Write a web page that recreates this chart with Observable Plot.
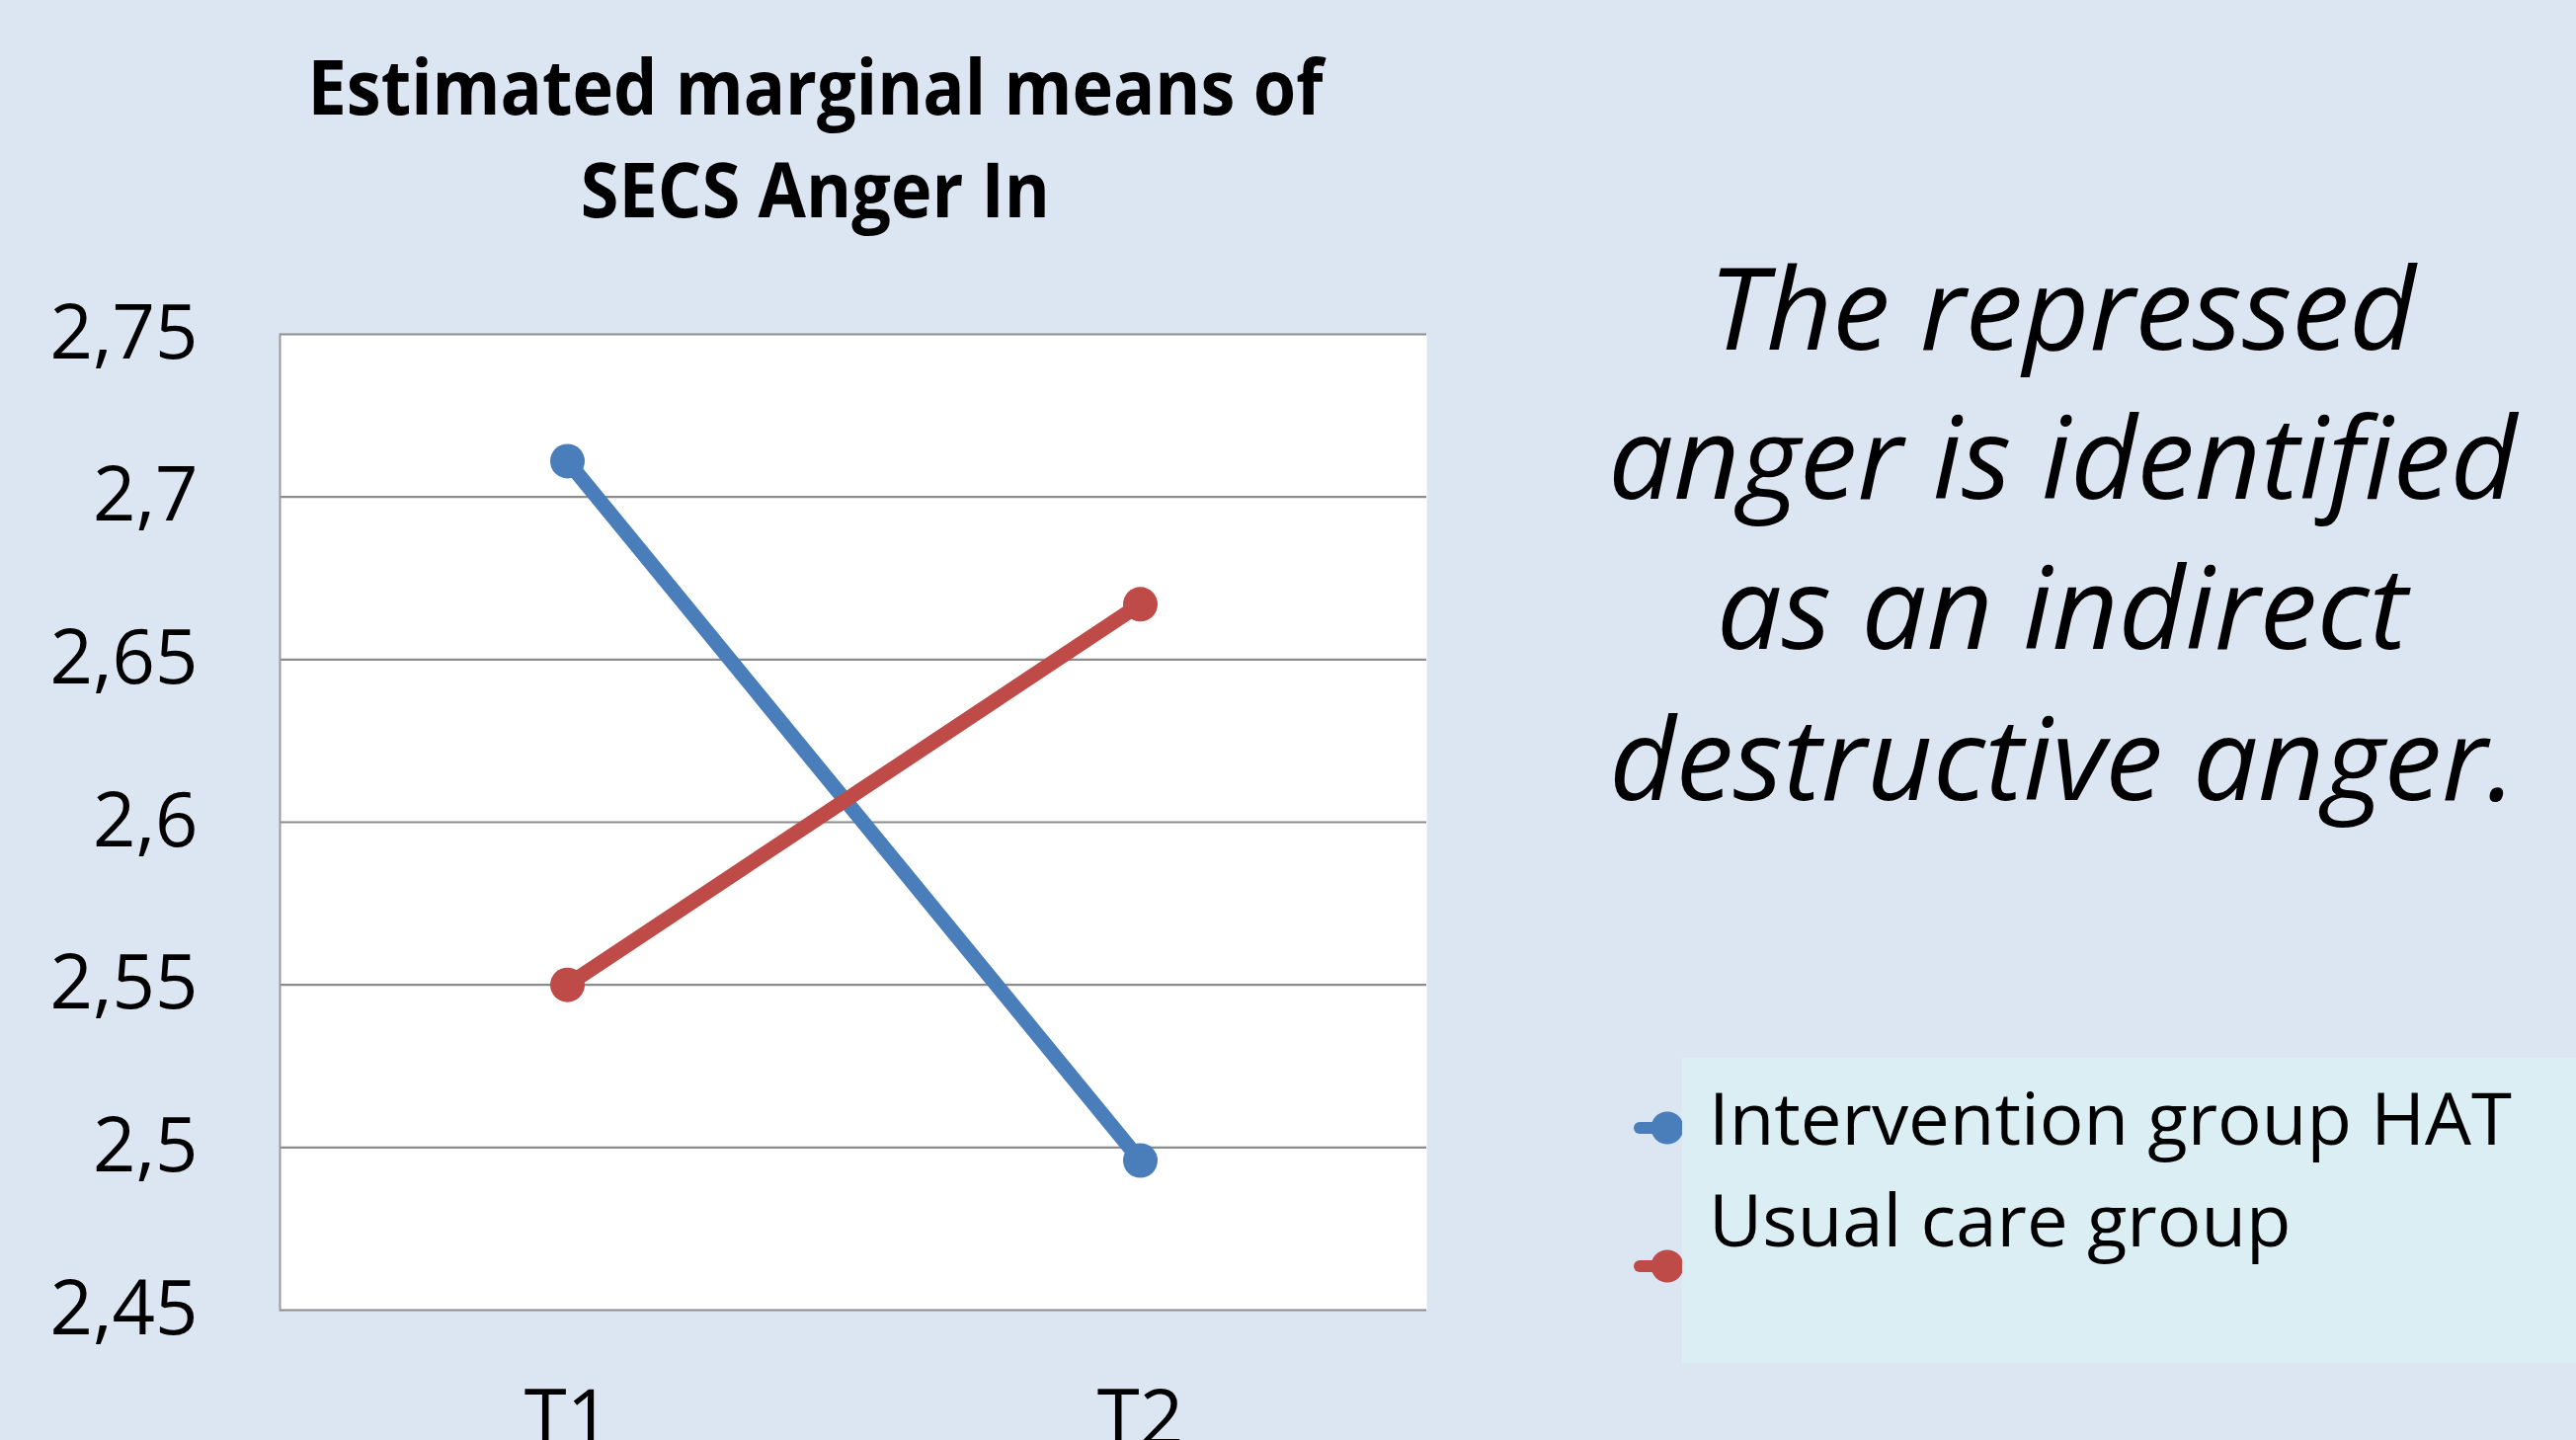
<!DOCTYPE html>
<html>
<head>
<meta charset="utf-8">
<script src="https://cdn.jsdelivr.net/npm/d3@7"></script>
<script src="https://cdn.jsdelivr.net/npm/@observablehq/plot@0.6"></script>
<style>
  html, body { margin: 0; padding: 0; }
  body {
    width: 2608px; height: 1458px; overflow: hidden; position: relative;
    background: #DCE6F2; color: #000; font-family: "Open Sans", sans-serif;
  }
  .abs { position: absolute; }
  .line { position: absolute; left: 0; width: 100%; white-space: nowrap; line-height: 1; }
  .line span { display: inline-block; }
  #title { left: 0; top: 0; width: 1650px; text-align: center; font-weight: bold; font-size: 77px; }
  #title .line span { transform-origin: 50% 50%; }
  #note { left: 1088px; top: 0; width: 2000px; text-align: center; font-style: italic; font-size: 115px; }
  #note .line span { transform-origin: 50% 50%; }
  #chart { left: 0; top: 260px; }
  #legendMarks { left: 0; top: 0; }
  #legendBox { left: 1703px; top: 1071px; width: 905px; height: 309px; background: #DBEEF4; }
  #legendText { left: 1730px; top: 0; width: 900px; font-size: 74px; }
  #legendText .line span { transform-origin: 0 50%; }
</style>
</head>
<body>
<div id="title" class="abs"></div>
<div id="chart" class="abs"></div>
<div id="note" class="abs"></div>
<svg id="legendMarks" class="abs" width="2608" height="1458"></svg>
<div id="legendBox" class="abs"></div>
<div id="legendText" class="abs"></div>
<script>
// ---- data ----
const titleLines = ["Estimated marginal means of", "SECS Anger In"];
const noteLines = ["The repressed", "anger is identified", "as an indirect", "destructive anger."];
const timepoints = ["T1", "T2"];
const groups = ["Intervention group HAT", "Usual care group"];
const interventionValues = [2.711, 2.496];
const usualCareValues = [2.550, 2.667];
const groupColors = ["#4A7EBB", "#BE4B48"];
const yTicks = [2.45, 2.5, 2.55, 2.6, 2.65, 2.7, 2.75];
const yTickLabels = ["2,45", "2,5", "2,55", "2,6", "2,65", "2,7", "2,75"];

// table built from the arrays
const seriesValues = [interventionValues, usualCareValues];
const table = [];
groups.forEach((g, gi) => timepoints.forEach((t, ti) => table.push({group: g, time: t, value: seriesValues[gi][ti]})));

// ---- text helpers ----
function addLines(container, lines, baselines, fontSize, targetWidth) {
  const spans = lines.map((txt, i) => {
    const d = document.createElement("div");
    d.className = "line";
    // Open Sans baseline sits at ~0.888em from top with line-height 1
    d.style.top = (baselines[i] - 0.888 * fontSize) + "px";
    const s = document.createElement("span");
    s.textContent = txt;
    d.appendChild(s);
    container.appendChild(d);
    return s;
  });
  const maxW = d3.max(spans, s => s.getBoundingClientRect().width);
  const k = targetWidth / maxW;
  spans.forEach(s => s.style.transform = `scaleX(${k})`);
}

addLines(document.getElementById("title"), titleLines, [116, 220], 77, 1028);
addLines(document.getElementById("note"), noteLines, [354, 505, 657, 810], 115, 920);
addLines(document.getElementById("legendText"), groups, [1160, 1263], 74, 813);

// ---- chart ----
const chart = Plot.plot({
  width: 1460,
  height: 1198,
  marginTop: 78,
  marginBottom: 132,
  marginLeft: 283,
  marginRight: 16,
  style: {fontFamily: "Open Sans, sans-serif", background: "transparent", overflow: "visible"},
  x: {type: "point", domain: timepoints, padding: 0.5, label: null},
  y: {domain: [2.45, 2.75], label: null},
  color: {domain: groups, range: groupColors},
  marks: [
    Plot.frame({fill: "white", stroke: null}),
    Plot.gridY(yTicks, {stroke: "#8c8c8c", strokeOpacity: 1, strokeWidth: 2.2}),
    Plot.frame({anchor: "left", stroke: "#9a9a9a", strokeOpacity: 1, strokeWidth: 2}),
    Plot.axisY(yTicks, {tickSize: 0, tickPadding: 83, fontSize: 76, fill: "#000",
      tickFormat: (d) => yTickLabels[yTicks.indexOf(d)]}),
    Plot.axisX({tickSize: 0, tickPadding: 81, fontSize: 78, fill: "#000"}),
    Plot.line(table, {x: "time", y: "value", z: "group", stroke: "group", strokeWidth: 15, strokeLinecap: "butt"}),
    Plot.dot(table, {x: "time", y: "value", fill: "group", r: 17.5, stroke: null})
  ]
});
document.getElementById("chart").appendChild(chart);

// ---- legend swatches (drawn under the legend box, which clips them) ----
const lm = d3.select("#legendMarks");
const swatchY = [1142, 1282];
groups.forEach((g, i) => {
  lm.append("line").attr("x1", 1660).attr("x2", 1688).attr("y1", swatchY[i]).attr("y2", swatchY[i])
    .attr("stroke", groupColors[i]).attr("stroke-width", 12).attr("stroke-linecap", "round");
  lm.append("circle").attr("cx", 1688).attr("cy", swatchY[i]).attr("r", 16.5).attr("fill", groupColors[i]);
});
</script>
</body>
</html>
